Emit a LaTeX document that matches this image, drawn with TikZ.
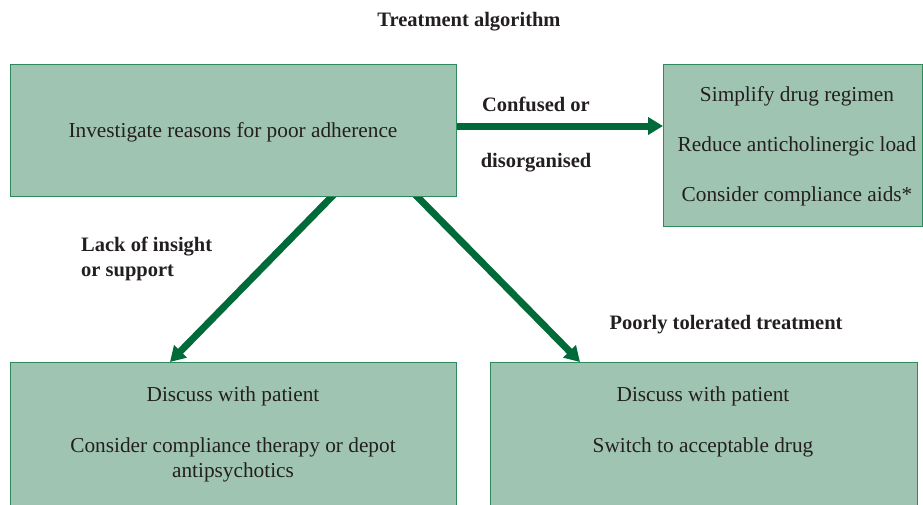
\documentclass[tikz,border=0pt]{standalone}
\usepackage{fontspec}
\setmainfont{Liberation Serif}
\usetikzlibrary{arrows.meta}
\definecolor{boxfill}{HTML}{A0C4B2}
\definecolor{boxline}{HTML}{2E8A5C}
\definecolor{flow}{HTML}{006B38}
\definecolor{ink}{HTML}{231F20}
\pgfdeclarelayer{bg}
\pgfsetlayers{bg,main}

\begin{document}
\begin{tikzpicture}[x=1pt,y=-1pt,
  box/.style={draw=boxline, fill=boxfill, line width=1.3pt, rectangle,
    inner sep=0pt, anchor=north west},
  txt/.style={text=ink, font=\fontsize{21.3}{25}\selectfont, anchor=base, inner sep=0pt},
  lbl/.style={txt, font=\fontsize{20.5}{25}\selectfont\bfseries},
  flowarrow/.style={draw=flow, line width=7pt, -{Triangle[length=15pt,width=17pt]}}]

\useasboundingbox (0,0) rectangle (923,504);
\clip (0,0) rectangle (923,504);

% boxes
\node[box, minimum width=446pt, minimum height=132pt] (tl) at (10,64) {};
\node[box, minimum width=259pt, minimum height=162pt] (tr) at (663,64) {};
\node[box, minimum width=446pt, minimum height=160pt] (bl) at (10,362) {};
\node[box, minimum width=427pt, minimum height=160pt] (br) at (490,362) {};

% connectors (kept behind the boxes)
\coordinate (hy) at (0,126);
\begin{pgfonlayer}{bg}
  \draw[flowarrow] (tl.east |- hy) -- (tr.west |- hy);
  \draw[flowarrow] ([yshift=6pt]tl.south -| 337,0) -- (bl.north -| 170,0);
  \draw[flowarrow] ([yshift=6pt]tl.south -| 412,0) -- (br.north -| 580,0);
\end{pgfonlayer}

% title
\node[lbl] (title) at (469,26) {Treatment algorithm};

% box texts
\node[txt] (t1) at (233,137) {Investigate reasons for poor adherence};

\node[txt] (tr1) at (797,101) {Simplify drug regimen};
\node[txt] (tr2) at (797,151) {Reduce anticholinergic load};
\node[txt] (tr3) at (797,201) {Consider compliance aids*};

\node[txt] (bl1) at (233,401) {Discuss with patient};
\node[txt] (bl2) at (233,452) {Consider compliance therapy or depot};
\node[txt] (bl3) at (233,477) {antipsychotics};

\node[txt] (br1) at (703,401) {Discuss with patient};
\node[txt] (br2) at (703,452) {Switch to acceptable drug};

% connector labels
\node[lbl] (c1) at (536,111) {Confused or};
\node[lbl] (c2) at (536,167) {disorganised};
\node[lbl, anchor=base west] (l1) at (81,251) {Lack of insight};
\node[lbl, anchor=base west] (l2) at (81,276) {or support};
\node[lbl] (p1) at (726,329) {Poorly tolerated treatment};
\end{tikzpicture}
\end{document}
